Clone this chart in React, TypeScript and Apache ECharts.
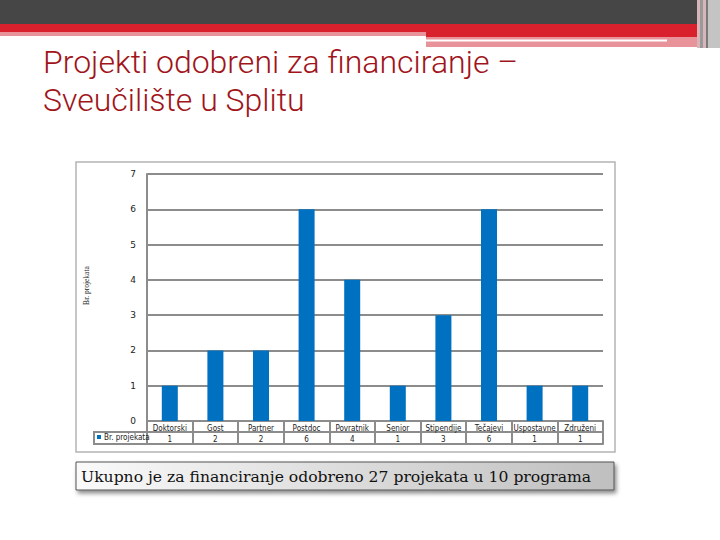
import React, { useEffect, useRef } from "react";
import * as echarts from "echarts";

const categories = ["Doktorski", "Gost", "Partner", "Postdoc", "Povratnik", "Senior", "Stipendije", "Tečajevi", "Uspostavne", "Združeni"];
const projects = [1, 2, 2, 6, 4, 1, 3, 6, 1, 1];
const yTicks = [0, 1, 2, 3, 4, 5, 6, 7];
const seriesName = "Br. projekata";
const titleLines = ["Projekti odobreni za financiranje –", "Sveučilište u Splitu"];
const summary = "Ukupno je za financiranje odobreno 27 projekata u 10 programa";

const GRID = "#8c8c8c";
const NARROW = "Liberation Sans Narrow, DejaVu Sans Condensed, DejaVu Sans";

export default function App() {
  const ref = useRef<HTMLDivElement>(null);
  useEffect(() => {
    if (!ref.current) return;
    const chart = echarts.init(ref.current, null, { renderer: "svg" });
    const tblFont = { fontSize: 8, color: "#222", fontFamily: NARROW };
    const titleStyle = { fill: "#a0141a", fontSize: 32, fontWeight: 300, fontFamily: "Roboto", verticalAlign: "middle" };
    chart.setOption({
      animation: false,
      backgroundColor: "#ffffff",
      grid: { left: 147, top: 174, width: 456, height: 247, containLabel: false },
      legend: {
        data: [seriesName],
        left: 97,
        top: 433,
        icon: "rect",
        itemWidth: 4,
        itemHeight: 4,
        itemGap: 2,
        padding: 0,
        textStyle: { fontSize: 8, color: "#222", fontFamily: NARROW, padding: [0, 0, 0, -2] },
        selectedMode: false,
      },
      xAxis: [
        {
          type: "category",
          data: categories,
          position: "bottom",
          axisLine: { show: true, lineStyle: { color: GRID, width: 2 } },
          axisTick: { show: true, length: 23, interval: 0, alignWithLabel: false, lineStyle: { color: GRID, width: 2 } },
          axisLabel: { interval: 0, margin: 3, ...tblFont },
          splitLine: { show: false },
        },
        {
          type: "category",
          data: categories,
          position: "bottom",
          offset: 11,
          axisLine: { show: true, lineStyle: { color: GRID, width: 2 } },
          axisTick: { show: false },
          axisLabel: { interval: 0, margin: 3, ...tblFont, formatter: (_v: string, i: number) => String(projects[i]) },
        },
        {
          type: "category",
          data: categories,
          position: "bottom",
          offset: 23,
          axisLine: { show: true, lineStyle: { color: GRID, width: 2 } },
          axisTick: { show: false },
          axisLabel: { show: false },
        },
      ],
      yAxis: {
        type: "value",
        min: yTicks[0],
        max: yTicks[yTicks.length - 1],
        interval: 1,
        name: seriesName,
        nameLocation: "middle",
        nameGap: 57,
        nameTextStyle: { fontSize: 7.5, color: "#222", fontFamily: "Liberation Serif", padding: [0, 0, 0, 24] },
        axisLine: { show: true, lineStyle: { color: GRID, width: 2 } },
        axisTick: { show: false },
        axisLabel: { margin: 11, fontSize: 9, color: "#222", fontFamily: "DejaVu Sans" },
        splitLine: { show: true, lineStyle: { color: GRID, width: 2 } },
      },
      series: [
        {
          name: seriesName,
          type: "bar",
          data: projects,
          barWidth: 16,
          itemStyle: { color: "#0070c0" },
          xAxisIndex: 0,
        },
      ],
      graphic: [
        // header bands
        { type: "rect", shape: { x: 0, y: 0, width: 720, height: 24 }, style: { fill: "#464646" }, silent: true },
        { type: "rect", shape: { x: 0, y: 24, width: 697, height: 8 }, style: { fill: "#d9202d" }, silent: true },
        { type: "rect", shape: { x: 0, y: 32, width: 426, height: 4 }, style: { fill: "#e8939a" }, silent: true },
        { type: "rect", shape: { x: 426, y: 32, width: 271, height: 5 }, style: { fill: "#d9202d" }, silent: true },
        { type: "rect", shape: { x: 426, y: 37, width: 271, height: 10 }, style: { fill: "#e8939a" }, silent: true },
        { type: "rect", shape: { x: 426, y: 39.5, width: 241, height: 2 }, style: { fill: "#ffffff" }, silent: true },
        { type: "rect", shape: { x: 697, y: 0, width: 10, height: 48 }, style: { fill: "#d7b5b8" }, silent: true },
        { type: "rect", shape: { x: 700, y: 0, width: 3, height: 48 }, style: { fill: "#9a9a9a" }, silent: true },
        { type: "rect", shape: { x: 706, y: 0, width: 2, height: 48 }, style: { fill: "#7a7a7a" }, silent: true },
        { type: "rect", shape: { x: 708, y: 0, width: 12, height: 48 }, style: { fill: "#c4c4c4" }, silent: true },
        // title
        { type: "text", x: 43, y: 61.5, style: { text: titleLines[0], ...titleStyle }, silent: true },
        { type: "text", x: 43, y: 99.8, style: { text: titleLines[1], ...titleStyle }, silent: true },
        // chart frame
        { type: "rect", shape: { x: 76, y: 162, width: 539, height: 290 }, style: { fill: "none", stroke: "#b4b4b4", lineWidth: 1.5 }, silent: true, z: -1 },
        // legend cell of the data table
        { type: "rect", shape: { x: 94, y: 432, width: 53, height: 12 }, style: { fill: "none", stroke: GRID, lineWidth: 2 }, silent: true },
        // summary box
        {
          type: "rect",
          shape: { x: 76, y: 462, width: 538, height: 28 },
          style: {
            fill: new echarts.graphic.LinearGradient(0, 0, 1, 0, [
              { offset: 0, color: "#fafafa" },
              { offset: 1, color: "#bfbfbf" },
            ]),
            stroke: "#555",
            lineWidth: 1,
            shadowBlur: 4,
            shadowOffsetX: 2,
            shadowOffsetY: 3,
            shadowColor: "rgba(0,0,0,0.45)",
          },
          silent: true,
        },
        {
          type: "text",
          x: 81,
          y: 477,
          style: { text: summary, fill: "#111", fontSize: 15.6, fontFamily: "DejaVu Serif", verticalAlign: "middle" },
          silent: true,
        },
      ],
    });
    return () => chart.dispose();
  }, []);
  return <div ref={ref} style={{ position: "fixed", left: 0, top: 0, width: 720, height: 540 }} />;
}
